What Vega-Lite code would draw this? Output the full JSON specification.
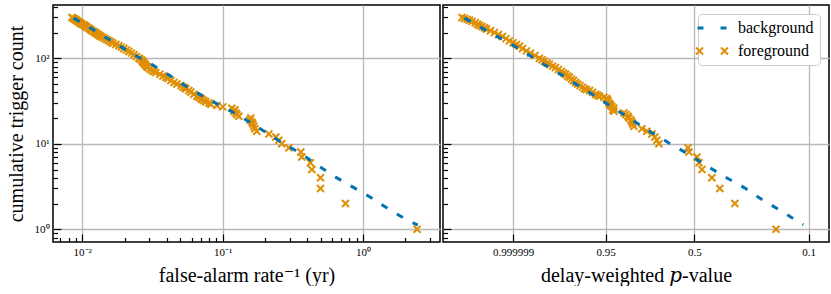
{
  "$schema": "https://vega.github.io/schema/vega-lite/v6.json",
  "background": "white",
  "padding": {"left": 5, "top": 4, "right": 4, "bottom": 0},
  "datasets": {
    "bgIFAR": [
      {"series": "background", "x": 0.0087, "count": 295},
      {"series": "background", "x": 0.01245, "count": 208},
      {"series": "background", "x": 0.0227, "count": 113},
      {"series": "background", "x": 0.0307, "count": 86.5},
      {"series": "background", "x": 0.0414, "count": 63.8},
      {"series": "background", "x": 0.0559, "count": 46.2},
      {"series": "background", "x": 0.0755, "count": 34.6},
      {"series": "background", "x": 0.105, "count": 26.0},
      {"series": "background", "x": 0.1416, "count": 19.8},
      {"series": "background", "x": 0.191, "count": 14.5},
      {"series": "background", "x": 0.273, "count": 10.0},
      {"series": "background", "x": 0.368, "count": 7.53},
      {"series": "background", "x": 0.471, "count": 5.65},
      {"series": "background", "x": 0.618, "count": 4.2},
      {"series": "background", "x": 0.859, "count": 3.07},
      {"series": "background", "x": 1.159, "count": 2.31},
      {"series": "background", "x": 1.567, "count": 1.67},
      {"series": "background", "x": 2.12, "count": 1.25},
      {"series": "background", "x": 2.45, "count": 1.12}
    ],
    "fgIFAR": [
      {"series": "foreground", "x": 0.00845, "count": 300},
      {"series": "foreground", "x": 0.00859, "count": 295},
      {"series": "foreground", "x": 0.00873, "count": 290},
      {"series": "foreground", "x": 0.00887, "count": 285},
      {"series": "foreground", "x": 0.00902, "count": 280},
      {"series": "foreground", "x": 0.00917, "count": 275},
      {"series": "foreground", "x": 0.00932, "count": 270},
      {"series": "foreground", "x": 0.00947, "count": 265},
      {"series": "foreground", "x": 0.00963, "count": 260},
      {"series": "foreground", "x": 0.00979, "count": 255},
      {"series": "foreground", "x": 0.00995, "count": 250},
      {"series": "foreground", "x": 0.01028, "count": 245},
      {"series": "foreground", "x": 0.01045, "count": 240},
      {"series": "foreground", "x": 0.01062, "count": 235},
      {"series": "foreground", "x": 0.0108, "count": 230},
      {"series": "foreground", "x": 0.01116, "count": 225},
      {"series": "foreground", "x": 0.01134, "count": 220},
      {"series": "foreground", "x": 0.01153, "count": 215},
      {"series": "foreground", "x": 0.01172, "count": 210},
      {"series": "foreground", "x": 0.01211, "count": 205},
      {"series": "foreground", "x": 0.01231, "count": 200},
      {"series": "foreground", "x": 0.01262, "count": 195},
      {"series": "foreground", "x": 0.01293, "count": 190},
      {"series": "foreground", "x": 0.01326, "count": 185},
      {"series": "foreground", "x": 0.01359, "count": 180},
      {"series": "foreground", "x": 0.01404, "count": 175},
      {"series": "foreground", "x": 0.01451, "count": 170},
      {"series": "foreground", "x": 0.01499, "count": 165},
      {"series": "foreground", "x": 0.01549, "count": 160},
      {"series": "foreground", "x": 0.01601, "count": 155},
      {"series": "foreground", "x": 0.01654, "count": 150},
      {"series": "foreground", "x": 0.01737, "count": 145},
      {"series": "foreground", "x": 0.01825, "count": 140},
      {"series": "foreground", "x": 0.01901, "count": 135},
      {"series": "foreground", "x": 0.0198, "count": 130},
      {"series": "foreground", "x": 0.02064, "count": 125},
      {"series": "foreground", "x": 0.0215, "count": 120},
      {"series": "foreground", "x": 0.0224, "count": 115},
      {"series": "foreground", "x": 0.02333, "count": 110},
      {"series": "foreground", "x": 0.02431, "count": 105},
      {"series": "foreground", "x": 0.02533, "count": 100},
      {"series": "foreground", "x": 0.02574, "count": 98},
      {"series": "foreground", "x": 0.0266, "count": 95},
      {"series": "foreground", "x": 0.02682, "count": 92},
      {"series": "foreground", "x": 0.02704, "count": 90},
      {"series": "foreground", "x": 0.02749, "count": 88},
      {"series": "foreground", "x": 0.02794, "count": 85},
      {"series": "foreground", "x": 0.02841, "count": 82},
      {"series": "foreground", "x": 0.02887, "count": 80},
      {"series": "foreground", "x": 0.02935, "count": 78},
      {"series": "foreground", "x": 0.03033, "count": 75},
      {"series": "foreground", "x": 0.03134, "count": 72},
      {"series": "foreground", "x": 0.03238, "count": 70},
      {"series": "foreground", "x": 0.03346, "count": 68},
      {"series": "foreground", "x": 0.03573, "count": 65},
      {"series": "foreground", "x": 0.03753, "count": 62},
      {"series": "foreground", "x": 0.03943, "count": 60},
      {"series": "foreground", "x": 0.04074, "count": 58},
      {"series": "foreground", "x": 0.04279, "count": 55},
      {"series": "foreground", "x": 0.04494, "count": 52},
      {"series": "foreground", "x": 0.04721, "count": 50},
      {"series": "foreground", "x": 0.05041, "count": 48},
      {"series": "foreground", "x": 0.05209, "count": 46},
      {"series": "foreground", "x": 0.05383, "count": 45},
      {"series": "foreground", "x": 0.05471, "count": 44},
      {"series": "foreground", "x": 0.05745, "count": 42},
      {"series": "foreground", "x": 0.05938, "count": 40},
      {"series": "foreground", "x": 0.06237, "count": 38},
      {"series": "foreground", "x": 0.06553, "count": 36},
      {"series": "foreground", "x": 0.06769, "count": 35},
      {"series": "foreground", "x": 0.06996, "count": 34},
      {"series": "foreground", "x": 0.07112, "count": 33},
      {"series": "foreground", "x": 0.07347, "count": 32},
      {"series": "foreground", "x": 0.07593, "count": 31},
      {"series": "foreground", "x": 0.07974, "count": 30},
      {"series": "foreground", "x": 0.08241, "count": 29},
      {"series": "foreground", "x": 0.09094, "count": 28},
      {"series": "foreground", "x": 0.1003, "count": 27},
      {"series": "foreground", "x": 0.1163, "count": 26},
      {"series": "foreground", "x": 0.1221, "count": 25},
      {"series": "foreground", "x": 0.1201, "count": 24},
      {"series": "foreground", "x": 0.1241, "count": 23},
      {"series": "foreground", "x": 0.1262, "count": 22},
      {"series": "foreground", "x": 0.1304, "count": 21},
      {"series": "foreground", "x": 0.1587, "count": 20},
      {"series": "foreground", "x": 0.1562, "count": 19},
      {"series": "foreground", "x": 0.1614, "count": 18},
      {"series": "foreground", "x": 0.164, "count": 17},
      {"series": "foreground", "x": 0.1668, "count": 16},
      {"series": "foreground", "x": 0.1695, "count": 15},
      {"series": "foreground", "x": 0.1751, "count": 14},
      {"series": "foreground", "x": 0.2132, "count": 13},
      {"series": "foreground", "x": 0.239, "count": 12},
      {"series": "foreground", "x": 0.2512, "count": 11},
      {"series": "foreground", "x": 0.2638, "count": 10},
      {"series": "foreground", "x": 0.296, "count": 9},
      {"series": "foreground", "x": 0.3602, "count": 8},
      {"series": "foreground", "x": 0.3662, "count": 7},
      {"series": "foreground", "x": 0.421, "count": 6},
      {"series": "foreground", "x": 0.4314, "count": 5},
      {"series": "foreground", "x": 0.4975, "count": 4},
      {"series": "foreground", "x": 0.4975, "count": 3},
      {"series": "foreground", "x": 0.7494, "count": 2},
      {"series": "foreground", "x": 2.423, "count": 1}
    ],
    "bgP": [
      {"series": "background", "x": 0.0325, "count": 295},
      {"series": "background", "x": 0.047, "count": 208},
      {"series": "background", "x": 0.0654, "count": 156},
      {"series": "background", "x": 0.0886, "count": 116},
      {"series": "background", "x": 0.12, "count": 85.1},
      {"series": "background", "x": 0.162, "count": 63.8},
      {"series": "background", "x": 0.219, "count": 46.2},
      {"series": "background", "x": 0.297, "count": 34.0},
      {"series": "background", "x": 0.391, "count": 25.3},
      {"series": "background", "x": 0.529, "count": 18.5},
      {"series": "background", "x": 0.716, "count": 13.5},
      {"series": "background", "x": 0.968, "count": 10.0},
      {"series": "background", "x": 1.311, "count": 7.53},
      {"series": "background", "x": 1.775, "count": 5.5},
      {"series": "background", "x": 2.4, "count": 4.08},
      {"series": "background", "x": 3.34, "count": 3.01},
      {"series": "background", "x": 4.39, "count": 2.23},
      {"series": "background", "x": 5.95, "count": 1.66},
      {"series": "background", "x": 8.05, "count": 1.22},
      {"series": "background", "x": 8.7, "count": 1.13}
    ],
    "fgP": [
      {"series": "foreground", "x": 0.03118, "count": 300},
      {"series": "foreground", "x": 0.03249, "count": 292},
      {"series": "foreground", "x": 0.034, "count": 285},
      {"series": "foreground", "x": 0.03527, "count": 278},
      {"series": "foreground", "x": 0.03675, "count": 270},
      {"series": "foreground", "x": 0.03878, "count": 260},
      {"series": "foreground", "x": 0.04027, "count": 250},
      {"series": "foreground", "x": 0.04162, "count": 242},
      {"series": "foreground", "x": 0.04339, "count": 235},
      {"series": "foreground", "x": 0.0452, "count": 228},
      {"series": "foreground", "x": 0.04671, "count": 220},
      {"series": "foreground", "x": 0.04988, "count": 210},
      {"series": "foreground", "x": 0.0532, "count": 200},
      {"series": "foreground", "x": 0.05693, "count": 190},
      {"series": "foreground", "x": 0.0608, "count": 180},
      {"series": "foreground", "x": 0.06443, "count": 170},
      {"series": "foreground", "x": 0.06815, "count": 160},
      {"series": "foreground", "x": 0.07233, "count": 152},
      {"series": "foreground", "x": 0.07647, "count": 145},
      {"series": "foreground", "x": 0.0805, "count": 138},
      {"series": "foreground", "x": 0.0846, "count": 130},
      {"series": "foreground", "x": 0.09036, "count": 122},
      {"series": "foreground", "x": 0.09658, "count": 115},
      {"series": "foreground", "x": 0.104, "count": 108},
      {"series": "foreground", "x": 0.1118, "count": 100},
      {"series": "foreground", "x": 0.1167, "count": 96},
      {"series": "foreground", "x": 0.1213, "count": 92},
      {"series": "foreground", "x": 0.1267, "count": 88},
      {"series": "foreground", "x": 0.1318, "count": 85},
      {"series": "foreground", "x": 0.1387, "count": 81},
      {"series": "foreground", "x": 0.1457, "count": 78},
      {"series": "foreground", "x": 0.1531, "count": 74},
      {"series": "foreground", "x": 0.1607, "count": 70},
      {"series": "foreground", "x": 0.1664, "count": 67},
      {"series": "foreground", "x": 0.1719, "count": 65},
      {"series": "foreground", "x": 0.1777, "count": 62},
      {"series": "foreground", "x": 0.1834, "count": 60},
      {"series": "foreground", "x": 0.1898, "count": 57},
      {"series": "foreground", "x": 0.1961, "count": 55},
      {"series": "foreground", "x": 0.2028, "count": 52},
      {"series": "foreground", "x": 0.2096, "count": 50},
      {"series": "foreground", "x": 0.2184, "count": 48},
      {"series": "foreground", "x": 0.2275, "count": 46},
      {"series": "foreground", "x": 0.2351, "count": 44},
      {"series": "foreground", "x": 0.2431, "count": 43},
      {"series": "foreground", "x": 0.2555, "count": 42},
      {"series": "foreground", "x": 0.2684, "count": 40},
      {"series": "foreground", "x": 0.282, "count": 38},
      {"series": "foreground", "x": 0.2915, "count": 37},
      {"series": "foreground", "x": 0.3012, "count": 36},
      {"series": "foreground", "x": 0.3234, "count": 35},
      {"series": "foreground", "x": 0.3379, "count": 34},
      {"series": "foreground", "x": 0.3407, "count": 33},
      {"series": "foreground", "x": 0.3464, "count": 32},
      {"series": "foreground", "x": 0.3521, "count": 30},
      {"series": "foreground", "x": 0.358, "count": 29},
      {"series": "foreground", "x": 0.362, "count": 28},
      {"series": "foreground", "x": 0.37, "count": 27},
      {"series": "foreground", "x": 0.3818, "count": 26},
      {"series": "foreground", "x": 0.3755, "count": 25},
      {"series": "foreground", "x": 0.3818, "count": 24},
      {"series": "foreground", "x": 0.4502, "count": 23},
      {"series": "foreground", "x": 0.4654, "count": 22},
      {"series": "foreground", "x": 0.481, "count": 21},
      {"series": "foreground", "x": 0.489, "count": 20},
      {"series": "foreground", "x": 0.5052, "count": 19},
      {"series": "foreground", "x": 0.5136, "count": 18},
      {"series": "foreground", "x": 0.5224, "count": 17},
      {"series": "foreground", "x": 0.5311, "count": 16},
      {"series": "foreground", "x": 0.606, "count": 15},
      {"series": "foreground", "x": 0.6582, "count": 14},
      {"series": "foreground", "x": 0.7149, "count": 13},
      {"series": "foreground", "x": 0.7508, "count": 12},
      {"series": "foreground", "x": 0.7759, "count": 11},
      {"series": "foreground", "x": 0.8019, "count": 10},
      {"series": "foreground", "x": 1.2965, "count": 9},
      {"series": "foreground", "x": 1.318, "count": 8},
      {"series": "foreground", "x": 1.503, "count": 7},
      {"series": "foreground", "x": 1.554, "count": 6},
      {"series": "foreground", "x": 1.633, "count": 5},
      {"series": "foreground", "x": 1.922, "count": 4},
      {"series": "foreground", "x": 2.194, "count": 3},
      {"series": "foreground", "x": 2.81, "count": 2},
      {"series": "foreground", "x": 5.535, "count": 1}
    ]
  },
  "spacing": 0,
  "resolve": {"scale": {"color": "independent"}, "legend": {"color": "independent"}},
  "hconcat": [
    {
      "width": 387,
      "height": 237,
      "encoding": {
        "x": {
          "field": "x", "type": "quantitative",
          "scale": {"type": "log", "domain": [0.00619, 3.53], "nice": false},
          "axis": {
            "values": [0.007, 0.008, 0.009, 0.01, 0.02, 0.03, 0.04, 0.05, 0.06, 0.07, 0.08, 0.09, 0.1, 0.2, 0.3, 0.4, 0.5, 0.6, 0.7, 0.8, 0.9, 1, 2, 3],
            "labelExpr": "datum.value === 0.01 ? '10⁻²' : datum.value === 0.1 ? '10⁻¹' : datum.value === 1 ? '10⁰' : ''",
            "labelFontSize": {"condition": {"test": "indexof([0.01, 0.1, 1], datum.value) >= 0", "value": 11}, "value": 0},
            "tickSize": {"condition": {"test": "indexof([0.01, 0.1, 1], datum.value) >= 0", "value": -8}, "value": -4.5},
            "gridOpacity": {"condition": {"test": "indexof([0.01, 0.1, 1], datum.value) >= 0", "value": 1}, "value": 0},
            "labelPadding": 12,
            "labelOverlap": false,
            "labelFlush": false,
            "title": "false-alarm rate⁻¹ (yr)",
            "titleFont": "Liberation Serif, DejaVu Serif",
            "titlePadding": 8
          }
        },
        "y": {
          "field": "count", "type": "quantitative",
          "scale": {"type": "log", "domain": [0.71, 420], "nice": false},
          "axis": {
            "values": [0.8, 0.9, 1, 2, 3, 4, 5, 6, 7, 8, 9, 10, 20, 30, 40, 50, 60, 70, 80, 90, 100, 200, 300, 400],
            "labelExpr": "datum.value === 1 ? '10⁰' : datum.value === 10 ? '10¹' : datum.value === 100 ? '10²' : ''",
            "labelFontSize": {"condition": {"test": "indexof([1, 10, 100], datum.value) >= 0", "value": 11}, "value": 0},
            "tickSize": {"condition": {"test": "indexof([1, 10, 100], datum.value) >= 0", "value": -8}, "value": -4.5},
            "gridOpacity": {"condition": {"test": "indexof([1, 10, 100], datum.value) >= 0", "value": 1}, "value": 0},
            "labelPadding": 12,
            "labelOverlap": false,
            "labelFlush": false,
            "title": "cumulative trigger count",
            "titlePadding": 8
          }
        },
        "color": {
          "field": "series", "type": "nominal",
          "scale": {"domain": ["background", "foreground"], "range": ["#0173b2", "#de8f05"]},
          "legend": null
        }
      },
      "layer": [
        {
          "data": {"name": "fgIFAR"},
          "mark": {"type": "point", "shape": "M-1,-1L1,1M-1,1L1,-1", "size": 49, "filled": false, "strokeWidth": 2, "opacity": 1}
        },
        {
          "data": {"name": "bgIFAR"},
          "mark": {"type": "line", "strokeDash": [7, 11], "strokeWidth": 3}
        }
      ]
    },
    {
      "width": 386,
      "height": 237,
      "encoding": {
        "x": {
          "field": "x", "type": "quantitative",
          "scale": {"type": "log", "domain": [0.02279, 13.27], "nice": false},
          "axis": {
            "values": [0.07238, 0.3338, 1.4427, 9.491],
            "labelExpr": "datum.value < 0.1 ? '0.999999' : datum.value < 1 ? '0.95' : datum.value < 5 ? '0.5' : '0.1'",
            "tickSize": -8,
            "labelPadding": 12,
            "labelOverlap": false,
            "labelFlush": false,
            "title": "delay-weighted 𝑝-value",
            "titleFont": "Liberation Serif, DejaVu Serif",
            "titlePadding": 8
          }
        },
        "y": {
          "field": "count", "type": "quantitative",
          "scale": {"type": "log", "domain": [0.71, 420], "nice": false},
          "axis": {
            "values": [0.8, 0.9, 1, 2, 3, 4, 5, 6, 7, 8, 9, 10, 20, 30, 40, 50, 60, 70, 80, 90, 100, 200, 300, 400],
            "labels": false,
            "tickSize": {"condition": {"test": "indexof([1, 10, 100], datum.value) >= 0", "value": -8}, "value": -4.5},
            "gridOpacity": {"condition": {"test": "indexof([1, 10, 100], datum.value) >= 0", "value": 1}, "value": 0},
            "title": null
          }
        },
        "color": {
          "field": "series", "type": "nominal",
          "scale": {"domain": ["background", "foreground"], "range": ["#0173b2", "#de8f05"]},
          "legend": {
            "title": null,
            "orient": "top-right",
            "offset": 9,
            "padding": 6,
            "strokeColor": "#cccccc",
            "fillColor": "#ffffff",
            "cornerRadius": 4,
            "labelFont": "Liberation Serif",
            "labelFontSize": 16,
            "labelColor": "black",
            "labelOffset": 18,
            "rowPadding": 7,
            "symbolSize": 841,
            "encode": {
              "symbols": {
                "update": {
                  "shape": {"signal": "datum.value === 'background' ? 'stroke' : 'M-1.1,-0.24L-0.62,0.24M-1.1,0.24L-0.62,-0.24M0.62,-0.24L1.1,0.24M0.62,0.24L1.1,-0.24'"},
                  "strokeDash": {"signal": "datum.value === 'background' ? [6, 17] : [100, 0]"},
                  "stroke": {"signal": "datum.value === 'background' ? '#0173b2' : '#de8f05'"},
                  "strokeWidth": {"signal": "datum.value === 'background' ? 3 : 2"},
                  "fill": {"value": "transparent"},
                  "opacity": {"value": 1}
                }
              }
            }
          }
        }
      },
      "layer": [
        {
          "data": {"name": "fgP"},
          "mark": {"type": "point", "shape": "M-1,-1L1,1M-1,1L1,-1", "size": 49, "filled": false, "strokeWidth": 2, "opacity": 1}
        },
        {
          "data": {"name": "bgP"},
          "mark": {"type": "line", "strokeDash": [7, 11], "strokeWidth": 3}
        }
      ]
    }
  ],
  "config": {
    "view": {"stroke": "black", "strokeWidth": 1.5},
    "legend": {"labelFont": "Liberation Serif"},
    "axis": {
      "labelFont": "Liberation Serif",
      "labelFontSize": 11,
      "labelColor": "black",
      "titleFont": "Liberation Serif",
      "titleFontSize": 20,
      "titleFontWeight": "normal",
      "titleColor": "black",
      "domain": false,
      "tickColor": "black",
      "tickWidth": 1.2,
      "gridColor": "#b8b8b8",
      "gridWidth": 1.3
    }
  }
}
